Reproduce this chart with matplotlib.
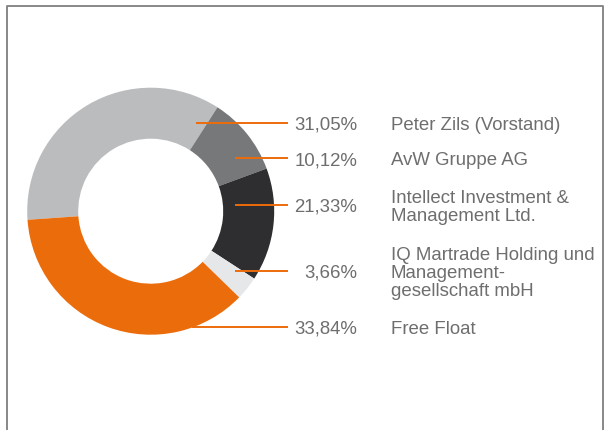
import matplotlib
matplotlib.use("Agg")
import matplotlib.pyplot as plt
from matplotlib.lines import Line2D

# shareholder structure (wedge shares as drawn, label texts as printed)
holders = ["Peter Zils (Vorstand)", "AvW Gruppe AG",
           "Intellect Investment &\nManagement Ltd.",
           "IQ Martrade Holding und\nManagement-\ngesellschaft mbH",
           "Free Float"]
pct_labels = ["31,05%", "10,12%", "21,33%", "3,66%", "33,84%"]
shares = [35.2, 10.3, 14.8, 3.1, 36.6]
colors = ["#bbbcbe", "#77787a", "#2e2e30", "#e6e7e8", "#eb6c0b"]

# label rows (pixel y from top) and where each leader line starts
label_y = [124, 159, 206, 271.7, 327.7]
leader_x0 = [196, 235, 235, 235, 192]

W, H = 604, 431
fig = plt.figure(figsize=(W / 100, H / 100), dpi=100)
ax = fig.add_axes([0, 0, 1, 1])

cx, cy, R = 150.7, H - 212.2, 123.5
ax.pie(shares, colors=colors, startangle=184, counterclock=False,
       center=(cx, cy), radius=R, frame=True,
       wedgeprops=dict(width=R - 72.5, linewidth=0))

txt_color = "#6d6e70"
fs = 13.4
for name, pct, yy, x0 in zip(holders, pct_labels, label_y, leader_x0):
    y = H - yy
    ax.plot([x0, 287.5], [y, y], color="#ec6c0c", lw=1.4, solid_capstyle="butt")
    ax.text(357, y - 1.5, pct, ha="right", va="center", fontsize=fs,
            family="Liberation Sans", color=txt_color)
    ax.text(390.5, y - 1.5, name, ha="left", va="center", fontsize=fs,
            family="Liberation Sans", color=txt_color, linespacing=1.08)

ax.set_xlim(0, W)
ax.set_ylim(0, H)
ax.set_aspect("equal")
ax.axis("off")

# grey frame: left, top, right (open at the bottom)
fc = "#7f7f7f"
fig.add_artist(Line2D([7.5 / W, 7.5 / W, 602.5 / W, 602.5 / W],
                      [0, 1 - 7 / H, 1 - 7 / H, 0],
                      color=fc, lw=1.3, transform=fig.transFigure))

fig.savefig("out.png", dpi=100, facecolor="white")
